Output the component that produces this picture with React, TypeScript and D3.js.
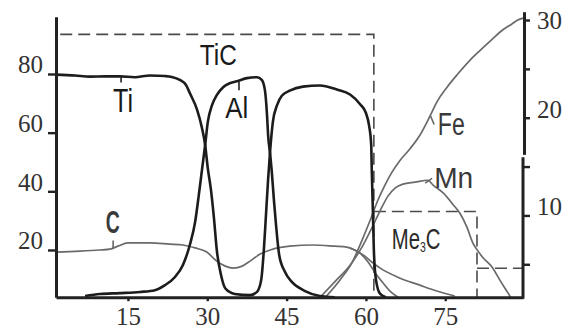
import React, { useRef, useEffect } from 'react';
import * as d3 from 'd3';

const W = 568;
const H = 329;

// depth / position along the profile (x) vs concentration (left axis, at.%)
const TI: [number, number][] = [
  [1.4, 79.8], [5.0, 79.5], [7.8, 79.1], [10.7, 79.2], [13.5, 79.2], [16.3, 78.9],
  [19.2, 79.5], [22.0, 79.3], [23.3, 79.0], [24.8, 78.0], [26.0, 76.2], [26.7, 73.5],
  [28.1, 67.7], [29.0, 61.6], [29.6, 55.8], [30.1, 47.9], [30.7, 40.5], [31.3, 30.2],
  [31.8, 20.0], [32.6, 11.5], [33.5, 6.7], [35.2, 5.0], [38.1, 4.6], [39.4, 5.7],
  [40.2, 9.8], [40.7, 20.0], [41.1, 31.9], [41.5, 43.9], [41.9, 54.1], [42.4, 63.6],
  [43.2, 69.4], [44.1, 72.6], [45.6, 74.3], [48.1, 75.7], [51.3, 76.1], [54.5, 74.7],
  [57.0, 73.0], [58.9, 69.7], [60.0, 66.7], [60.6, 62.4], [61.0, 55.8], [61.1, 47.8],
  [61.3, 34.2], [61.5, 20.0], [61.9, 9.8], [62.7, 5.0], [63.8, 3.9],
];

const AL: [number, number][] = [
  [6.9, 4.3], [9.7, 5.0], [13.5, 5.3], [17.3, 5.7], [20.1, 6.3], [22.0, 8.0],
  [23.9, 10.8], [25.4, 14.9], [26.7, 21.7], [27.7, 29.5], [28.4, 38.7], [29.0, 47.3],
  [29.6, 55.8], [30.1, 63.6], [30.9, 69.4], [31.8, 72.8], [33.0, 75.5], [34.3, 76.9],
  [35.8, 77.6], [37.5, 78.6], [39.4, 78.9], [40.3, 78.0], [40.9, 74.5], [41.3, 66.0],
  [41.5, 59.3], [41.9, 52.5], [42.2, 46.7], [42.6, 37.1], [43.0, 28.6], [43.6, 18.3],
  [44.7, 12.5], [46.0, 9.1], [48.5, 6.0], [51.3, 4.3], [54.1, 3.9],
];

const C: [number, number][] = [
  [1.4, 19.3], [5.9, 19.6], [9.7, 20.0], [11.6, 20.3], [13.1, 21.3], [15.0, 22.4],
  [19.2, 22.4], [22.9, 22.0], [25.4, 21.7], [27.7, 20.7], [29.9, 19.3], [31.8, 16.2],
  [33.4, 14.5], [34.9, 13.8], [36.6, 14.5], [38.1, 16.2], [40.0, 18.6], [41.9, 20.0],
  [45.6, 21.3], [50.0, 21.7], [54.1, 21.3], [56.4, 21.0], [58.3, 19.6], [59.8, 17.9],
  [61.1, 15.9], [62.7, 13.8], [65.9, 10.8], [70.2, 8.0], [73.4, 6.0], [76.8, 4.3],
];

const C_TAIL: [number, number][] = [
  [57.0, 20.7], [58.9, 18.9], [60.4, 15.9], [61.9, 11.8], [63.4, 8.4], [64.7, 5.7], [66.1, 3.9],
];

// right axis
const FE: [number, number][] = [
  [52.3, 1.6], [55.1, 3.4], [57.4, 5.2], [59.3, 7.5], [60.8, 9.5], [62.3, 11.6],
  [63.6, 13.1], [64.9, 14.4], [66.4, 15.6], [68.3, 16.8], [70.2, 18.2], [71.5, 19.5],
  [72.5, 20.6], [73.4, 21.6], [75.3, 23.1], [77.4, 24.5], [79.7, 25.9], [81.6, 26.9],
  [83.8, 28.0], [85.9, 29.0], [87.6, 29.6], [88.7, 30.0], [89.7, 30.2],
];

const MN: [number, number][] = [
  [51.3, 1.6], [54.1, 3.2], [57.0, 4.9], [59.3, 6.8], [61.1, 8.7], [62.7, 10.5],
  [64.2, 12.0], [65.5, 12.8], [67.0, 13.2], [69.3, 13.4], [71.7, 13.6], [72.7, 13.1],
  [74.6, 12.3], [76.5, 11.1], [77.8, 10.2], [79.1, 8.8], [80.2, 7.2], [81.0, 6.5],
  [82.1, 5.7], [84.0, 4.6], [85.3, 3.4], [86.7, 2.2], [87.4, 1.6],
];

// phase regions (dashed)
const TIC_SPAN = [2.2, 61.5];
const TIC_LEVEL = 93.5;
const ME3C_BREAKS = [61.5, 81.0, 89.7];
const ME3C_LEVELS = [10.4, 4.6];

const X_TICKS = [15, 30, 45, 60, 75];
const Y_LEFT_TICKS = [20, 40, 60, 80];
const Y_RIGHT_TICKS = [5, 10, 15, 20, 25, 30];
const Y_RIGHT_LABELS = [10, 20, 30];

// curve labels: text, anchor (x, y in data units), which axis, font size, width
const LABELS = [
  { text: 'TiC', x: 28.6, y: 83.1, axis: 'L', size: 30, len: 37, weight: 400 },
  { text: 'Ti', x: 12.2, y: 67.0, axis: 'L', size: 34, len: 20, weight: 400 },
  { text: 'Al', x: 33.4, y: 65.0, axis: 'L', size: 29, len: 23, weight: 400 },
  { text: 'C', x: 10.8, y: 25.8, axis: 'L', size: 31, len: 14, weight: 700 },
  { text: 'Fe', x: 73.6, y: 18.2, axis: 'R', size: 31, len: 27, weight: 400 },
  { text: 'Mn', x: 72.9, y: 12.8, axis: 'R', size: 29, len: 39, weight: 400 },
];

// small leader strokes from label to curve: x1, y1, x2, y2, axis
const LEADERS = [
  { pts: [13.7, 79.2, 13.7, 77.1], axis: 'L', color: '#222' },
  { pts: [36.0, 77.3, 36.0, 74.5], axis: 'L', color: '#222' },
  { pts: [12.2, 20.3, 12.2, 23.2], axis: 'L', color: '#666' },
  { pts: [72.2, 20.2, 72.9, 19.3], axis: 'R', color: '#666' },
  { pts: [71.2, 13.3, 72.5, 13.8], axis: 'R', color: '#666' },
];

export default function App() {
  const svgRef = useRef<SVGSVGElement>(null);

  useEffect(() => {
    if (!svgRef.current) return;
    const svg = d3.select(svgRef.current);
    svg.selectAll('*').remove();

    const x = d3.scaleLinear().domain([1.4, 89.7]).range([56, 523]);
    const yL = d3.scaleLinear().domain([3.9, 99.5]).range([297.2, 16.8]);
    const yR = d3.scaleLinear().domain([1.65, 30.8]).range([297, 12.2]);
    const base = yL(3.9);

    svg.append('rect').attr('width', W).attr('height', H).attr('fill', '#fff');

    // dashed phase boxes
    const dash = svg.append('g')
      .attr('fill', 'none')
      .attr('stroke', '#4a4a4a')
      .attr('stroke-width', 1.6)
      .attr('stroke-dasharray', '12 6');

    const ticPath = d3.path();
    ticPath.moveTo(x(TIC_SPAN[0]), yL(TIC_LEVEL));
    ticPath.lineTo(x(TIC_SPAN[1]), yL(TIC_LEVEL));
    ticPath.lineTo(x(TIC_SPAN[1]), base);
    dash.append('path').attr('d', ticPath.toString());

    const mePath = d3.path();
    mePath.moveTo(x(ME3C_BREAKS[0]), yR(ME3C_LEVELS[0]));
    mePath.lineTo(x(ME3C_BREAKS[1]), yR(ME3C_LEVELS[0]));
    mePath.lineTo(x(ME3C_BREAKS[1]), base);
    mePath.moveTo(x(ME3C_BREAKS[1]), yR(ME3C_LEVELS[1]));
    mePath.lineTo(x(ME3C_BREAKS[2]), yR(ME3C_LEVELS[1]));
    dash.append('path').attr('d', mePath.toString());

    // curves
    const lineL = d3.line<[number, number]>()
      .x(d => x(d[0])).y(d => yL(d[1]))
      .curve(d3.curveMonotoneX);
    const lineR = d3.line<[number, number]>()
      .x(d => x(d[0])).y(d => yR(d[1]))
      .curve(d3.curveMonotoneX);

    const gray = '#6a6a6a';
    const black = '#1c1c1c';

    [C, C_TAIL].forEach(s => {
      svg.append('path').attr('d', lineL(s)).attr('fill', 'none')
        .attr('stroke', gray).attr('stroke-width', 1.7);
    });
    [FE, MN].forEach(s => {
      svg.append('path').attr('d', lineR(s)).attr('fill', 'none')
        .attr('stroke', gray).attr('stroke-width', 1.7);
    });
    [TI, AL].forEach(s => {
      svg.append('path').attr('d', lineL(s)).attr('fill', 'none')
        .attr('stroke', black).attr('stroke-width', 2.6)
        .attr('stroke-linejoin', 'round');
    });

    // leaders
    LEADERS.forEach(l => {
      const ys = l.axis === 'L' ? yL : yR;
      svg.append('line')
        .attr('x1', x(l.pts[0])).attr('y1', ys(l.pts[1]))
        .attr('x2', x(l.pts[2])).attr('y2', ys(l.pts[3]))
        .attr('stroke', l.color).attr('stroke-width', 1.6);
    });

    // labels
    const labelFont = '"Liberation Sans Narrow", "Liberation Sans", Arial, sans-serif';
    LABELS.forEach(l => {
      const ys = l.axis === 'L' ? yL : yR;
      svg.append('text')
        .attr('x', x(l.x)).attr('y', ys(l.y))
        .attr('font-family', labelFont)
        .attr('font-size', l.size)
        .attr('font-weight', l.weight)
        .attr('textLength', l.len)
        .attr('lengthAdjust', 'spacingAndGlyphs')
        .attr('fill', l.axis === 'L' && l.text !== 'C' ? '#1a1a1a' : '#3a3a3a')
        .text(l.text);
    });

    const me = svg.append('text')
      .attr('transform', `translate(${x(64.9)},${yR(6.55)}) scale(0.7,1)`)
      .attr('font-family', labelFont)
      .attr('font-size', 29)
      .attr('fill', '#2a2a2a');
    me.append('tspan').text('Me');
    me.append('tspan').attr('font-size', 15).attr('dy', 3).text('3');
    me.append('tspan').attr('dy', -3).text('C');

    // axes
    const tickFont = '"Liberation Serif", "Times New Roman", serif';
    const styleAxis = (g: d3.Selection<SVGGElement, unknown, null, undefined>) => {
      g.select('.domain').attr('stroke', '#222').attr('stroke-width', 3);
      g.selectAll('.tick line').attr('stroke', '#222').attr('stroke-width', 2.4);
      g.selectAll('.tick text')
        .attr('font-family', tickFont)
        .attr('font-size', 25)
        .attr('fill', '#333');
    };

    const gx = svg.append('g')
      .attr('transform', `translate(0,${base})`)
      .call(d3.axisBottom(x).tickValues(X_TICKS).tickSize(4).tickSizeOuter(0).tickPadding(6));
    styleAxis(gx);

    const gl = svg.append('g')
      .attr('transform', `translate(${x(1.4)},0)`)
      .call(d3.axisLeft(yL).tickValues(Y_LEFT_TICKS).tickSize(8).tickSizeOuter(0).tickPadding(5));
    styleAxis(gl);
    gl.selectAll('.tick text').attr('dy', '-0.04em');

    const gr = svg.append('g')
      .attr('transform', `translate(${x(89.7)},0)`)
      .call(d3.axisRight(yR).tickValues(Y_RIGHT_TICKS).tickSize(7).tickSizeOuter(0).tickPadding(7)
        .tickFormat(d => (Y_RIGHT_LABELS.includes(+d) ? String(d) : '')));
    styleAxis(gr);
    gr.selectAll('.tick text').attr('dy', (d: any) => (d === 30 ? '0.32em' : '-0.02em'));
    // the right axis is drawn in two pieces with a small break
    gr.select('.domain').remove();
    gr.append('line').attr('x1', 1.5).attr('x2', 1.5).attr('y1', yR(30.8)).attr('y2', yR(16.2))
      .attr('stroke', '#222').attr('stroke-width', 3);
    gr.append('line').attr('x1', 0).attr('x2', 0).attr('y1', yR(15.95)).attr('y2', base + 1.5)
      .attr('stroke', '#222').attr('stroke-width', 3);
  }, []);

  return (
    <svg
      ref={svgRef}
      width={W}
      height={H}
      style={{ position: 'absolute', left: 0, top: 0, display: 'block' }}
    />
  );
}
